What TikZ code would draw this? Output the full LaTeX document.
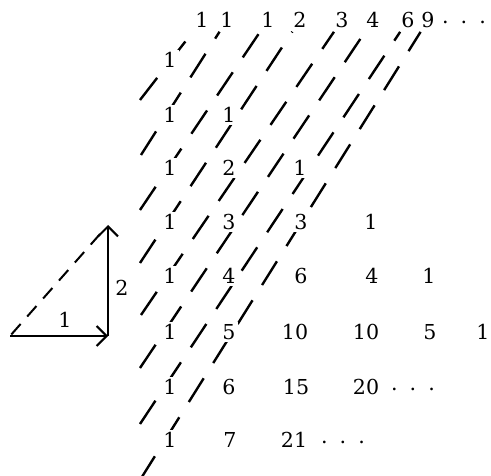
\documentclass[tikz,border=0pt]{standalone}
\usepackage{fontspec}
\setmainfont{DejaVu Serif}
\usepackage{tikz}
\usetikzlibrary{arrows.meta, calc, backgrounds}

\begin{document}
\begin{tikzpicture}[
    x=0.5pt, y=-0.5pt,
    num/.style={fill=white, inner sep=1pt, font=\fontsize{10.3}{12}\selectfont},
    sumval/.style={inner sep=1pt, font=\fontsize{10.3}{12}\selectfont},
    diag/.style={line width=1.2pt, dash pattern=on 14pt off 9pt, shorten >=1pt},
    vec/.style={line width=1pt, -{Straight Barb[length=5pt, width=10pt]}},
]
    \useasboundingbox (0,0) rectangle (491,475);

    % Sums along the diagonals
    \node[sumval] (s0) at (202,20) {1};
    \node[sumval] (s1) at (227,20) {1};
    \node[sumval] (s2) at (268,20) {1};
    \node[sumval] (s3) at (300,20) {2};
    \node[sumval] (s4) at (342,20) {3};
    \node[sumval] (s5) at (373,20) {4};
    \node[sumval] (s6) at (408,20) {6};
    \node[sumval] (s7) at (428,20) {9};
    \node[sumval] (sdots) at (464,22) {.\, .\, .};

    % Pascal's triangle, rows 0 to 7
    \node[num] (p00) at (170,60) {1};

    \node[num] (p10) at (170,115) {1};
    \node[num] (p11) at (229,115) {1};

    \node[num] (p20) at (170,168) {1};
    \node[num] (p21) at (229,168) {2};
    \node[num] (p22) at (300,168) {1};

    \node[num] (p30) at (170,222) {1};
    \node[num] (p31) at (229,222) {3};
    \node[num] (p32) at (301,222) {3};
    \node[num] (p33) at (371,222) {1};

    \node[num] (p40) at (170,276) {1};
    \node[num] (p41) at (229,276) {4};
    \node[num] (p42) at (301,276) {6};
    \node[num] (p43) at (372,276) {4};
    \node[num] (p44) at (429,276) {1};

    \node[num] (p50) at (170,332) {1};
    \node[num] (p51) at (229,332) {5};
    \node[num] (p52) at (295,332) {10};
    \node[num] (p53) at (366,332) {10};
    \node[num] (p54) at (430,332) {5};
    \node[num] (p55) at (483,332) {1};

    \node[num] (p60) at (170,387) {1};
    \node[num] (p61) at (229,387) {6};
    \node[num] (p62) at (296,387) {15};
    \node[num] (p63) at (366,387) {20};
    \node[sumval] (d6) at (413,389) {.\, .\, .};

    \node[num] (p70) at (170,440) {1};
    \node[num] (p71) at (230,440) {7};
    \node[num] (p72) at (294,440) {21};
    \node[sumval] (d7) at (343,442) {.\, .\, .};

    % Diagonals, behind the numbers
    \begin{scope}[on background layer]
        \coordinate (b0) at (140,100);
        \coordinate (b1) at (141,155);
        \coordinate (b2) at (140,210);
        \coordinate (b3) at (140,263);
        \coordinate (b4) at (141,315);
        \coordinate (b5) at (140,368);
        \coordinate (b6) at (140,424);
        \coordinate (b7) at (140,480);
        \draw[diag] (b0) -- (s0);
        \draw[diag] (b1) -- (s1);
        \draw[diag] (b2) -- (s2);
        \draw[diag] (b3) -- (s3);
        \draw[diag] (b4) -- (s4);
        \draw[diag] (b5) -- (s5);
        \draw[diag] (b6) -- (s6);
        \draw[diag] (b7) -- (s7);
    \end{scope}

    % Step vector: one right, two up
    \coordinate (o) at (10,336);
    \coordinate (a) at (108,336);
    \coordinate (c) at (108,225);
    \draw[vec] (o) -- (a);
    \draw[vec] (a) -- (c);
    \draw[line width=1pt, dash pattern=on 7pt off 5pt, shorten >=6pt, shorten <=1pt] (o) -- (c);
    \node[sumval] (lx) at (65,320) {1};
    \node[sumval] (ly) at (122,288) {2};
\end{tikzpicture}
\end{document}
